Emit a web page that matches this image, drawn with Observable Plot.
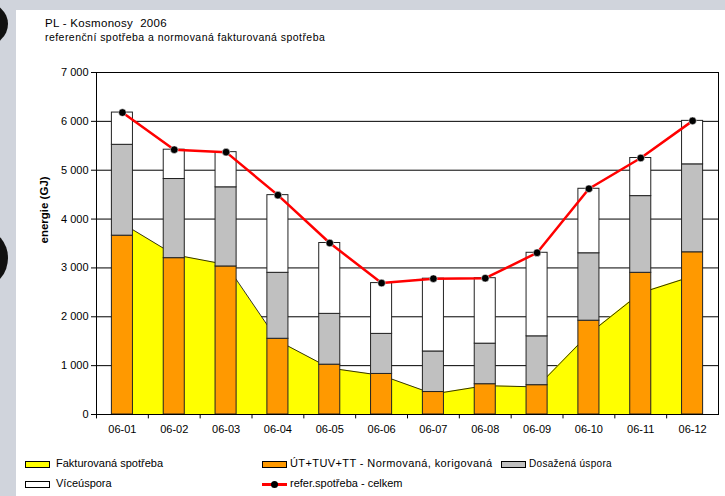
<!DOCTYPE html>
<html>
<head>
<meta charset="utf-8">
<script src="https://cdn.jsdelivr.net/npm/d3@7"></script>
<script src="https://cdn.jsdelivr.net/npm/@observablehq/plot@0.6"></script>
<style>
  html, body { margin: 0; padding: 0; }
  body { width: 725px; height: 496px; position: relative; overflow: hidden; background: #d0d4dc; font-family: "Liberation Sans", Arial, sans-serif; color: #000; }
  #panel { position: absolute; left: 16px; top: 10px; width: 709px; height: 486px; background: #fff; }
  .hole { position: absolute; border-radius: 50%; background: #111; }
  #title { position: absolute; left: 45px; top: 17px; font-size: 11.5px; line-height: 13px; letter-spacing: 0.3px; white-space: pre; }
  #subtitle { position: absolute; left: 45px; top: 31px; font-size: 10.5px; line-height: 12px; letter-spacing: 0.45px; white-space: pre; }
  #chart { position: absolute; left: 0; top: 0; }
  .lg { position: absolute; font-size: 11px; line-height: 12px; white-space: pre; }
  .sw { position: absolute; width: 23px; height: 5px; border: 1px solid #000; }
  .ln { position: absolute; width: 25px; height: 3px; background: #ff0000; }
  .dt { position: absolute; width: 7px; height: 7px; border-radius: 50%; background: #000; }
</style>
</head>
<body>
<div class="hole" style="left:-40px; top:2px; width:48px; height:44px;"></div>
<div class="hole" style="left:-40px; top:230px; width:48px; height:56px;"></div>
<div id="panel"></div>
<div id="title">PL - Kosmonosy  2006</div>
<div id="subtitle">referenční spotřeba a normovaná fakturovaná spotřeba</div>
<div id="chart"></div>

<div class="sw" style="left:25px; top:461px; background:#ffff00;"></div>
<div class="lg" style="left:56px; top:457px;">Fakturovaná spotřeba</div>
<div class="sw" style="left:262px; top:461px; background:#ff9900;"></div>
<div class="lg" style="left:290px; top:457px; letter-spacing:0.4px;">ÚT+TUV+TT - Normovaná, korigovaná</div>
<div class="sw" style="left:501px; top:461px; background:#c0c0c0;"></div>
<div class="lg" style="left:529px; top:458px; font-size:10px; letter-spacing:0.3px;">Dosažená úspora</div>
<div class="sw" style="left:25px; top:481px; background:#ffffff;"></div>
<div class="lg" style="left:56px; top:477px;">Víceúspora</div>
<div class="ln" style="left:262px; top:483px;"></div>
<div class="dt" style="left:271px; top:481px;"></div>
<div class="lg" style="left:290px; top:477px;">refer.spotřeba - celkem</div>

<script>
// ---- data (GJ) ----
const months = ["06-01","06-02","06-03","06-04","06-05","06-06","06-07","06-08","06-09","06-10","06-11","06-12"];
const fakturovana = [3910, 3270, 3070, 1510, 950, 800, 420, 590, 565, 1650, 2490, 2830];
const normovana   = [3660, 3200, 3030, 1550, 1020, 830, 460, 620, 600, 1920, 2900, 3320];
const dosazena    = [1860, 1620, 1620, 1350, 1040, 820, 830, 830, 1000, 1380, 1570, 1800];
const viceuspora  = [660, 600, 720, 1590, 1450, 1040, 1490, 1340, 1710, 1320, 780, 890];
const referCelkem = [6180, 5420, 5370, 4490, 3510, 2690, 2780, 2790, 3310, 4620, 5250, 6010];
const yTicks = [0, 1000, 2000, 3000, 4000, 5000, 6000, 7000];

const seriesNames  = ["ÚT+TUV+TT - Normovaná, korigovaná", "Dosažená úspora", "Víceúspora"];
const seriesColors = ["#ff9900", "#c0c0c0", "#ffffff"];
const seriesValues = [normovana, dosazena, viceuspora];

const stacked = [];
seriesNames.forEach((s, k) => months.forEach((m, i) => stacked.push({month: m, series: s, value: seriesValues[k][i]})));
const faktRows = months.map((m, i) => ({month: m, value: fakturovana[i]}));
const referRows = months.map((m, i) => ({month: m, value: referCelkem[i]}));

const W = 725, H = 445, mL = 96, mR = 7, mT = 72, mB = 31;
const step = (W - mL - mR) / months.length;
const fmt = d => d3.format(",")(d).replace(/,/g, " ");

const chart = Plot.plot({
  width: W, height: H,
  marginLeft: mL, marginRight: mR, marginTop: mT, marginBottom: mB,
  style: {fontFamily: "'Liberation Sans', Arial, sans-serif", fontSize: "11px", background: "transparent", color: "#000", overflow: "visible"},
  x: {domain: months, round: false, paddingInner: 0.594, paddingOuter: 0.297, tickSize: 0, tickPadding: 11, label: null},
  y: {domain: [0, 7000], ticks: yTicks, tickFormat: fmt, tickSize: 5, tickPadding: 3, label: null},
  color: {domain: seriesNames, range: seriesColors},
  marks: [
    Plot.ruleY(yTicks.filter(d => d > 0 && d < 7000), {stroke: "#000", strokeWidth: 1}),
    Plot.areaY(faktRows, {x: "month", y: "value", fill: "#ffff00"}),
    Plot.lineY(faktRows, {x: "month", y: "value", stroke: "#000", strokeWidth: 0.8}),
    Plot.barY(stacked, {x: "month", y: "value", fill: "series", stroke: "#222", strokeWidth: 1}),
    Plot.lineY(referRows, {x: "month", y: "value", stroke: "#ff0000", strokeWidth: 2.5}),
    Plot.dot(referRows, {x: "month", y: "value", r: 3.8, fill: "#000", stroke: "#fff", strokeWidth: 0.5}),
    Plot.ruleX(months, {x: d => d, dx: -step / 2, y1: 0, y2: -90, stroke: "#000"}),
    Plot.frame({stroke: "#000"}),
    Plot.text(["energie (GJ)"], {frameAnchor: "left", dx: -52, rotate: -90, fontWeight: "bold", fontSize: 11.5})
  ]
});
document.getElementById("chart").appendChild(chart);
</script>
</body>
</html>
